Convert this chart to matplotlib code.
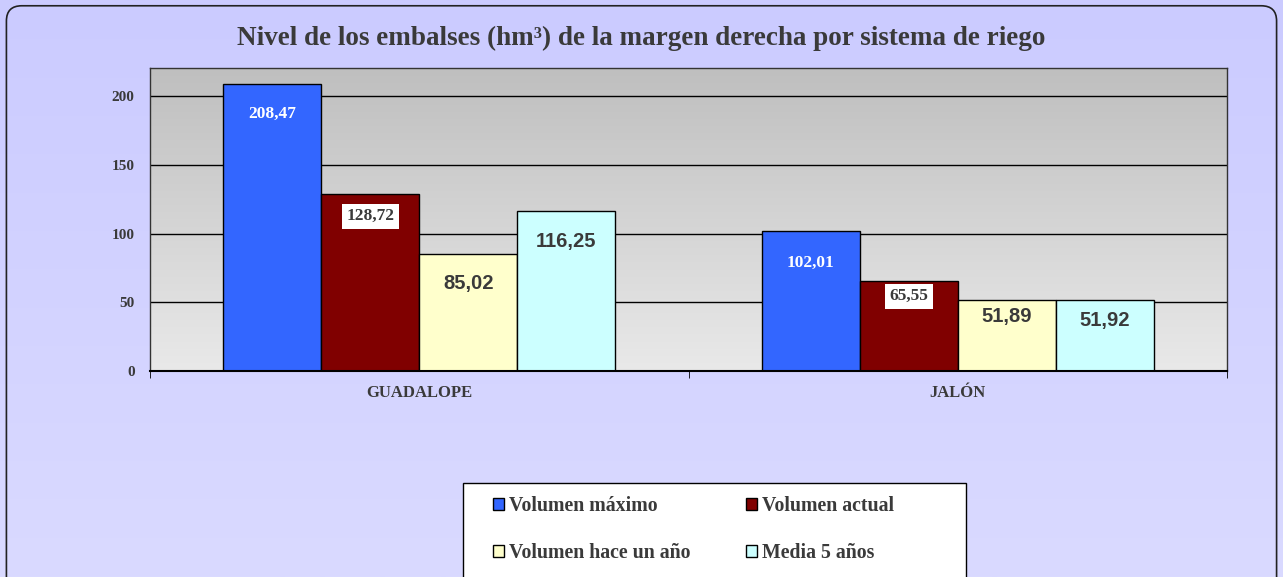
import numpy as np
import matplotlib.pyplot as plt
from matplotlib.patches import FancyBboxPatch, Rectangle
from matplotlib.colors import LinearSegmentedColormap

categories = ['GUADALOPE', 'JALÓN']
series = ['Volumen máximo', 'Volumen actual', 'Volumen hace un año', 'Media 5 años']
vol_max = [208.47, 102.01]
vol_actual = [128.72, 65.55]
vol_hace_anio = [85.02, 51.89]
media_5 = [116.25, 51.92]

colors = ['#3366ff', '#800000', '#ffffcc', '#ccffff']
serif = ['Liberation Serif', 'DejaVu Serif']
sans = ['Liberation Sans', 'DejaVu Sans']
txt = '#3a3a3a'

fig = plt.figure(figsize=(12.83, 5.77), dpi=100)

# figure background: lavender gradient with a rounded border
bg = fig.add_axes([0, 0, 1, 1], zorder=-10)
grad = np.linspace(0, 1, 256).reshape(-1, 1)
cm_bg = LinearSegmentedColormap.from_list('bg', ['#cbcbff', '#dadaff'])
bg.imshow(grad, aspect='auto', cmap=cm_bg, extent=[0, 1, 0, 1], origin='upper')
bg.add_patch(FancyBboxPatch((0.005, -0.05), 0.99, 1.04,
                            boxstyle='round,pad=0,rounding_size=0.012',
                            fc='none', ec='#222222', lw=1.2,
                            transform=bg.transAxes, mutation_aspect=2.2))
# legend box
bg.add_patch(Rectangle((463 / 1283, -0.02), 503 / 1283, (577 - 483) / 577 + 0.02,
                       fc='white', ec='black', lw=1.0, transform=bg.transAxes))
bg.set_xlim(0, 1)
bg.set_ylim(0, 1)
bg.axis('off')

ax = fig.add_axes([150 / 1283, 1 - 371 / 577, 1077 / 1283, 303 / 577])
ax.set_xlim(-0.5, 1.5)
ax.set_ylim(0, 220.4)

# plot area gradient
cm_pa = LinearSegmentedColormap.from_list('pa', ['#bfbfbf', '#e9e9e9'])
ax.imshow(grad, aspect='auto', cmap=cm_pa, extent=[-0.5, 1.5, 0, 220.4],
          origin='upper', zorder=0)

for v in [50, 100, 150, 200]:
    ax.axhline(v, color='black', lw=1.0, zorder=1)

x = np.arange(len(categories))
w = 0.182
data = [vol_max, vol_actual, vol_hace_anio, media_5]
bars = []
for i, vals in enumerate(data):
    b = ax.bar(x + (i - 1.5) * w, vals, w, color=colors[i], edgecolor='black',
               lw=1.0, zorder=2, label=series[i])
    bars.append(b)

# label offsets below bar top (points), per category
off_max = [-21, -23]
off_act = [-16, -11]
off_hace = [-21, -12]
off_med = [-22, -15]

def fmt(v):
    return f'{v:.2f}'.replace('.', ',')

for j in range(len(categories)):
    xc = x[j]
    ax.annotate(fmt(vol_max[j]), (xc - 1.5 * w, vol_max[j]),
                xytext=(0, off_max[j]), textcoords='offset points', ha='center', va='center',
                color='white', fontweight='bold', fontsize=12.5, family=serif, zorder=3)
    ax.annotate(fmt(vol_actual[j]), (xc - 0.5 * w, vol_actual[j]),
                xytext=(0, off_act[j]), textcoords='offset points', ha='center', va='center',
                color=txt, fontweight='bold', fontsize=12.5, family=serif, zorder=3,
                bbox=dict(boxstyle='square,pad=0.25', fc='white', ec='none'))
    ax.annotate(fmt(vol_hace_anio[j]), (xc + 0.5 * w, vol_hace_anio[j]),
                xytext=(0, off_hace[j]), textcoords='offset points', ha='center', va='center',
                color=txt, fontweight='bold', fontsize=14.5, family=sans, zorder=3)
    ax.annotate(fmt(media_5[j]), (xc + 1.5 * w, media_5[j]),
                xytext=(0, off_med[j]), textcoords='offset points', ha='center', va='center',
                color=txt, fontweight='bold', fontsize=14.5, family=sans, zorder=3)

ax.set_yticks([0, 50, 100, 150, 200])
ax.set_xticks(x)
ax.set_xticklabels(categories)
ax.set_xticks([-0.5, 0.5, 1.5], minor=True)
ax.tick_params(axis='x', which='major', length=0, pad=10)
ax.tick_params(axis='x', which='minor', length=5, direction='out')
ax.tick_params(axis='y', length=0, pad=11)
for lab in ax.get_xticklabels():
    lab.set_family(serif)
    lab.set_fontweight('bold')
    lab.set_fontsize(12)
    lab.set_color(txt)
for lab in ax.get_yticklabels():
    lab.set_family(serif)
    lab.set_fontweight('bold')
    lab.set_fontsize(11)
    lab.set_color(txt)
for s in ax.spines.values():
    s.set_color('#333333')
    s.set_linewidth(1.0)
ax.spines['bottom'].set_color('black')
ax.spines['bottom'].set_linewidth(1.5)

fig.text(0.5, 1 - 38 / 577, 'Nivel de los embalses (hm³) de la margen derecha por sistema de riego',
         ha='center', va='center', family=serif, fontweight='bold', fontsize=19.5,
         color=txt)

# legend filled column by column: reorder so rows read max/actual, hace/media
order = [0, 2, 1, 3]
leg = fig.legend(handles=[bars[k] for k in order], labels=[series[k] for k in order],
                 ncol=2, loc='upper left', bbox_to_anchor=(493 / 1283, 1 - 496 / 577),
                 frameon=False, prop=dict(family=serif, weight='bold', size=14.3),
                 handlelength=0.55, handleheight=0.55, handletextpad=0.25,
                 columnspacing=2.8, labelspacing=1.35, borderpad=0,
                 borderaxespad=0)
for t in leg.get_texts():
    t.set_color(txt)

fig.savefig('out.png', dpi=100)
